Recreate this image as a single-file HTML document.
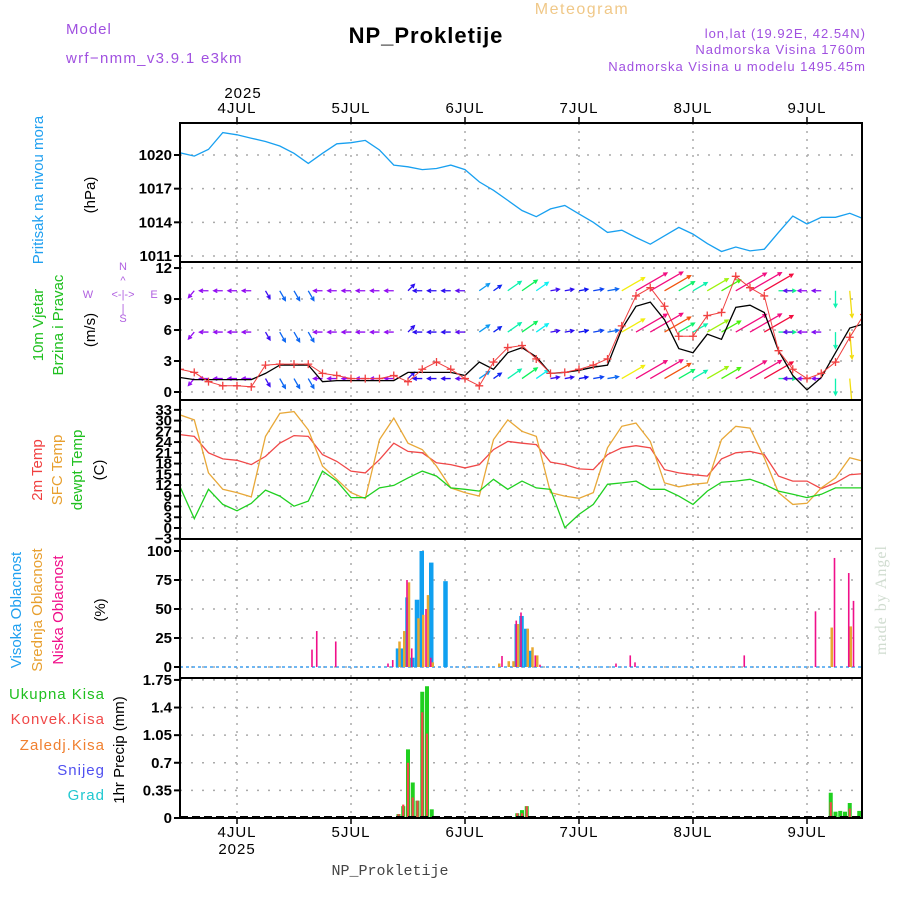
<!DOCTYPE html>
<html><head><meta charset="utf-8"><style>
body{margin:0;background:#fff;}
svg{display:block;font-family:"Liberation Sans",sans-serif;}
</style></head><body>
<svg id="c" width="900" height="900" viewBox="0 0 900 900">
<g>
<text x="66" y="34" fill="#a050e0" font-size="15" letter-spacing="1">Model</text>
<text x="66" y="63" fill="#a050e0" font-size="15" letter-spacing="1.3">wrf−nmm_v3.9.1  e3km</text>
<text x="426" y="43" fill="#000" font-size="22" font-weight="bold" text-anchor="middle" letter-spacing="1">NP_Prokletije</text>
<text x="582" y="14" fill="#f0c888" font-size="16" text-anchor="middle" letter-spacing="1.5">Meteogram</text>
<text x="866" y="38" fill="#a050e0" font-size="13" text-anchor="end" letter-spacing="1">lon,lat (19.92E, 42.54N)</text>
<text x="866" y="54" fill="#a050e0" font-size="13" text-anchor="end" letter-spacing="1">Nadmorska Visina 1760m</text>
<text x="866" y="71" fill="#a050e0" font-size="13" text-anchor="end" letter-spacing="1">Nadmorska Visina u modelu 1495.45m</text>
<text x="243" y="98" font-size="15" text-anchor="middle" letter-spacing="1">2025</text>
<text x="390" y="875" fill="#444" font-size="15" text-anchor="middle" font-family="Liberation Mono, monospace">NP_Prokletije</text>
<text transform="translate(886,600) rotate(-90)" fill="#d0dcd0" font-size="16" text-anchor="middle" letter-spacing="1" font-family="Liberation Serif, serif">made by Angel</text>
</g>
<g font-size="15">
<text transform="translate(43,190) rotate(-90)" fill="#20a0f0" text-anchor="middle">Pritisak na nivou mora</text>
<text transform="translate(95,195) rotate(-90)" text-anchor="middle">(hPa)</text>
<text transform="translate(43,325) rotate(-90)" fill="#20c020" text-anchor="middle">10m Vjetar</text>
<text transform="translate(63,325) rotate(-90)" fill="#20c020" text-anchor="middle">Brzina i Pravac</text>
<text transform="translate(95,330) rotate(-90)" text-anchor="middle">(m/s)</text>
<g fill="#b060e0" font-size="11" text-anchor="middle">
<text x="123" y="270">N</text><text x="123" y="322">S</text><text x="88" y="298">W</text><text x="154" y="298">E</text>
<text x="123" y="298">&lt;-|-&gt;</text><text x="123" y="284">^</text><text x="123" y="312">|</text>
</g>
<text transform="translate(42,470) rotate(-90)" fill="#f04040" text-anchor="middle">2m Temp</text>
<text transform="translate(62,470) rotate(-90)" fill="#e8a030" text-anchor="middle">SFC Temp</text>
<text transform="translate(82,470) rotate(-90)" fill="#20c020" text-anchor="middle">dewpt Temp</text>
<text transform="translate(104,470) rotate(-90)" text-anchor="middle">(C)</text>
<text transform="translate(21,610) rotate(-90)" fill="#20a0f0" text-anchor="middle">Visoka Oblacnost</text>
<text transform="translate(42,610) rotate(-90)" fill="#e8a030" text-anchor="middle">Srednja Oblacnost</text>
<text transform="translate(63,610) rotate(-90)" fill="#f0108a" text-anchor="middle">Niska Oblacnost</text>
<text transform="translate(105,610) rotate(-90)" text-anchor="middle">(%)</text>
<g text-anchor="end" letter-spacing="1">
<text x="105" y="699" fill="#20c020">Ukupna Kisa</text>
<text x="105" y="724" fill="#f04848">Konvek.Kisa</text>
<text x="105" y="750" fill="#f08030">Zaledj.Kisa</text>
<text x="105" y="775" fill="#5050f0">Snijeg</text>
<text x="105" y="800" fill="#20c8d0">Grad</text>
</g>
<text transform="translate(124,750) rotate(-90)" text-anchor="middle">1hr Precip (mm)</text>
</g>
<g id="plot"></g>
</svg>
<script>
// hours since 3JUL 12Z, 3-hourly
const hours3 = [];
for (let i = 0; i <= 48; i++) hours3.push(i * 3);
const dayLabels = ['4JUL','5JUL','6JUL','7JUL','8JUL','9JUL'];
const dayHours = [12,36,60,84,108,132];
const pressure = [1020.2,1019.9,1020.5,1022.0,1021.8,1021.5,1021.2,1020.8,1020.15,1019.25,1020.15,1021.0,1021.1,1021.3,1020.45,1019.1,1018.95,1018.7,1018.8,1019.1,1018.7,1017.6,1016.85,1015.95,1015.05,1014.5,1015.2,1015.5,1014.75,1014.0,1013.1,1013.3,1012.65,1012.05,1012.8,1013.55,1012.95,1012.1,1011.4,1011.8,1011.45,1011.6,1013.1,1014.55,1013.85,1014.45,1014.45,1014.8,1014.3];
const windSpeed = [1.4,1.2,1.2,1.2,1.2,1.2,1.8,2.6,2.6,2.6,1.0,1.1,1.1,1.1,1.1,1.1,1.9,1.9,1.9,1.9,1.6,2.9,2.2,3.8,4.3,3.4,1.8,1.9,2.1,2.4,2.6,6.1,8.3,8.7,7.0,4.2,3.8,5.6,5.1,8.2,8.4,7.7,4.0,1.6,0.2,1.4,3.8,6.2,6.6];
const windGust = [2.2,1.9,1.0,0.6,0.6,0.5,2.6,2.7,2.7,2.7,1.8,1.6,1.3,1.3,1.3,1.6,1.0,2.2,2.9,2.2,1.3,0.6,2.9,4.3,4.5,3.2,1.8,1.9,2.2,2.6,3.2,6.4,9.3,10.1,8.3,5.4,5.4,7.4,7.7,11.2,10.1,9.3,4.0,2.2,1.3,1.8,2.9,5.3,7.5];
const windDirTo = [220,220,270,270,270,270,150,150,150,150,270,270,270,270,270,270,45,270,270,270,270,55,55,55,55,55,80,80,80,80,80,60,60,60,60,60,60,60,60,60,60,60,90,270,270,270,180,175,170];
const temp2m = [26.1,25.6,21,19.3,18.9,17.7,20,23.7,25.8,25.6,20.5,18.6,15.9,15.4,19.1,23.7,21.4,21,18.2,17.7,16.8,17.7,21.9,24.2,23.7,23.3,18.4,17.7,16.5,16.3,20.5,22.4,23,22.4,16.3,15.4,14.9,14.5,19.3,21,21.4,20.5,14.5,13.1,13.1,11,12.6,14.9,15.2];
const tempSfc = [31.6,30.2,15.4,10.8,9.9,8.7,25.6,32,32.5,27.4,17.3,13.6,9.9,8.2,24.7,30.7,23.7,21.9,17.3,11.2,9.9,8.9,24.7,30.2,27,25.6,9.9,8.9,8.3,9.9,22.4,28.4,29.3,24.2,12.6,11.5,12.2,12.6,24.7,28.4,27.9,19.6,9.9,6.6,6.9,11.2,14,19.6,18.6];
const dewpt = [11.5,2.6,10.8,6.6,4.8,6.9,10.6,8.9,6.1,7.5,15.9,13.1,8.5,8.5,11.2,11.9,14,15.9,14.5,11.2,10.8,10.3,13.6,10.8,13.1,11.2,10.8,0.1,3.8,6.6,12.2,12.6,13.1,10.8,10.8,8.9,6.6,10.3,12.8,13.1,13.6,12.2,10.3,9.4,8.5,9.4,11.2,11.2,11.2];
const highCloudHours = [46,47,48,49,50,51,53,56,71,72,73,74];
const highCloud = [16,16,60,8,58,100,90,74,37,44,33,14];
const midCloudHours = [46,47,48,50,51,52,53,67,69,70,71,73,74,75,137,141];
const midCloud = [22,31,73,42,45,62,4,3,5,5,37,33,17,10,34,35];
const lowCloudHours = [28,29,33,44,45,48,49,52,53,68,71,72,75,76,92,95,96,119,134,138,141,142];
const lowCloud = [15,31,22,3,6,75,16,50,8,9.5,40,47,10,2,3,10,4,10,48,94,81,57];
const precipHours = [46,47,48,49,50,51,52,53,71,72,73,74,136,137,138,139,140,141,142,143];
const precipTotal = [0.05,0.15,0.87,0.45,0.22,1.6,1.67,0.11,0.06,0.1,0.15,0.02,0.01,0.32,0.08,0.09,0.08,0.19,0.01,0.09];
const precipConv = [0.05,0.17,0.7,0.26,0.22,1.34,1.07,0,0.06,0.06,0.15,0.02,0,0.2,0,0,0,0.12,0,0];
const pTicks = [1020,1017,1014,1011];
const wTicks = [12,9,6,3,0];
const tTicks = [33,30,27,24,21,18,15,12,9,6,3,0,-3];
const cTicks = [100,75,50,25,0];
const rTicks = [1.75,1.4,1.05,0.7,0.35,0];
const rTickLabels = ['1.75','1.4','1.05','0.7','0.35','0'];

const NS='http://www.w3.org/2000/svg';
const plot=document.getElementById('plot');
const X0=180,X1=862;
const xs=h=>X0+h*4.75;
const yP=p=>155+(1020-p)*11.22;
const yW=v=>392-v*10.33;
const yT=t=>528-t*3.58;
const yC=c=>667-c*1.16;
const yR=r=>818-r*78.9;
const panels=[[123,262],[262,400],[400,539],[539,678],[678,818]];
function mk(tag,attrs,parent){const e=document.createElementNS(NS,tag);for(const k in attrs)e.setAttribute(k,attrs[k]);(parent||plot).appendChild(e);return e;}
const defs=mk('defs',{});
panels.forEach((p,i)=>{const cp=mk('clipPath',{id:'cp'+i},defs);mk('rect',{x:X0,y:p[0],width:X1-X0,height:p[1]-p[0]},cp);});
function hgrid(ticks,yf,labels,name){
  ticks.forEach((t,i)=>{
    const y=yf(t);
    const l=mk('line',{x1:X0,x2:X1,y1:y,y2:y,stroke:'#aaa','stroke-width':1.5,'stroke-dasharray':'2,9'});
    
    
    const tk=mk('line',{x1:X0-6,x2:X0,y1:y,y2:y,stroke:'#000','stroke-width':2});
    
    
    const tx=mk('text',{x:X0-8,y:y+5,'text-anchor':'end','font-size':15,'font-weight':'bold'});
    tx.textContent=labels?labels[i]:String(t).replace('-','−');
    
    
  });
}
hgrid(pTicks,yP,null,'pressure-axis');
hgrid(wTicks,yW,null,'wind-axis');
hgrid(tTicks,yT,null,'temp-axis');
hgrid(cTicks,yC,null,'cloud-axis');
hgrid(rTicks,yR,rTickLabels,'precip-axis');
dayHours.forEach((h,i)=>{
  const x=xs(h);
  const l=mk('line',{x1:x,x2:x,y1:123,y2:818,stroke:'#aaa','stroke-width':1.5,'stroke-dasharray':'2,6'});
  
  
  mk('line',{x1:x,x2:x,y1:117,y2:123,stroke:'#000','stroke-width':1.5});
  mk('line',{x1:x,x2:x,y1:818,y2:824,stroke:'#000','stroke-width':1.5});
  const t=mk('text',{x:x,y:113,'text-anchor':'middle','font-size':15,'letter-spacing':1});
  t.textContent=dayLabels[i];
  
  
  const b=mk('text',{x:x,y:837,'text-anchor':'middle','font-size':15,'letter-spacing':1});
  b.textContent=dayLabels[i];
  
  
});
const by=mk('text',{x:xs(12),y:854,'text-anchor':'middle','font-size':15,'letter-spacing':1});
by.textContent='2025';



function line(vals,yf,color,ci,name,w){
  const d=vals.map((v,i)=>(i?'L':'M')+xs(hours3[i]).toFixed(1)+','+yf(v).toFixed(1)).join('');
  const p=mk('path',{d:d,fill:'none',stroke:color,'stroke-width':w||1.3,'clip-path':'url(#cp'+ci+')'});
  
  
  return p;
}
line(pressure,yP,'#18a0f0',0,'pressure-line');
const rows=[9.8,5.8,1.3];
const wg=mk('g',{'clip-path':'url(#cp1)'});


rows.forEach(r=>{
  hours3.forEach((h,i)=>{
    const s=windSpeed[i],a=windDirTo[i]*Math.PI/180,L=Math.max(9,s*4.3);
    const x0=xs(h),y0=yW(r),x1=x0+L*Math.sin(a),y1=y0-L*Math.cos(a);
    const hraw=Math.max(-30,275-45*Math.max(0,s-1.3));
    const hue=(hraw+360)%360;
    const col='hsl('+hue+',90%,50%)';
    const ah=4,b1=a+Math.PI*0.85,b2=a-Math.PI*0.85;
    const p=mk('path',{d:'M'+x0+','+y0+'L'+x1+','+y1+'M'+(x1+ah*Math.sin(b1))+','+(y1-ah*Math.cos(b1))+'L'+x1+','+y1+'L'+(x1+ah*Math.sin(b2))+','+(y1-ah*Math.cos(b2)),stroke:col,'stroke-width':1.3,fill:'none'},wg);
    
    
  });
});
line(windSpeed,yW,'#000',1,'wind-speed-line',1.3);
line(windGust,yW,'#f04040',1,'wind-gust-line',1);
hours3.forEach((h,i)=>{
  const x=xs(h),y=yW(windGust[i]);
  const m=mk('path',{d:'M'+(x-4)+','+y+'h8M'+x+','+(y-4)+'v8',stroke:'#f04040','stroke-width':1.3,'clip-path':'url(#cp1)'});
  
  
});
line(temp2m,yT,'#f04848',2,'temp-2m-line');
line(tempSfc,yT,'#e8a838',2,'temp-sfc-line');
line(dewpt,yT,'#20d020',2,'dewpoint-line');
const zl=mk('line',{x1:X0,x2:X1,y1:yC(0),y2:yC(0),stroke:'#40a0f0','stroke-width':1.5,'stroke-dasharray':'3,3'});


function bars(hs,vals,yf,color,off,w,name){
  hs.forEach((h,i)=>{
    const y=yf(vals[i]),y0=yf(0);
    const r=mk('rect',{x:xs(h)+off-w/2,y:y,width:w,height:Math.max(0,y0-y),fill:color});
    
    
  });
}
bars(highCloudHours,highCloud,yC,'#10a0f0',-0.5,4.5,'high-cloud-bar');
bars(midCloudHours,midCloud,yC,'#e8a830',1,2.5,'mid-cloud-bar');
bars(lowCloudHours,lowCloud,yC,'#f0108a',-1,1.6,'low-cloud-bar');
bars(precipHours,precipTotal,yR,'#20d020',0,4,'total-precip-bar');
bars(precipHours,precipConv,yR,'#f04848',0,2.2,'convective-precip-bar');
const pz=mk('line',{x1:X0,x2:X1,y1:817,y2:817,stroke:'#000','stroke-width':2,'stroke-dasharray':'8,4'});


panels.forEach((p,i)=>{
  const r=mk('rect',{x:X0,y:p[0],width:X1-X0,height:p[1]-p[0],fill:'none',stroke:'#000','stroke-width':2});
  
  
});
</script>
</body></html>
